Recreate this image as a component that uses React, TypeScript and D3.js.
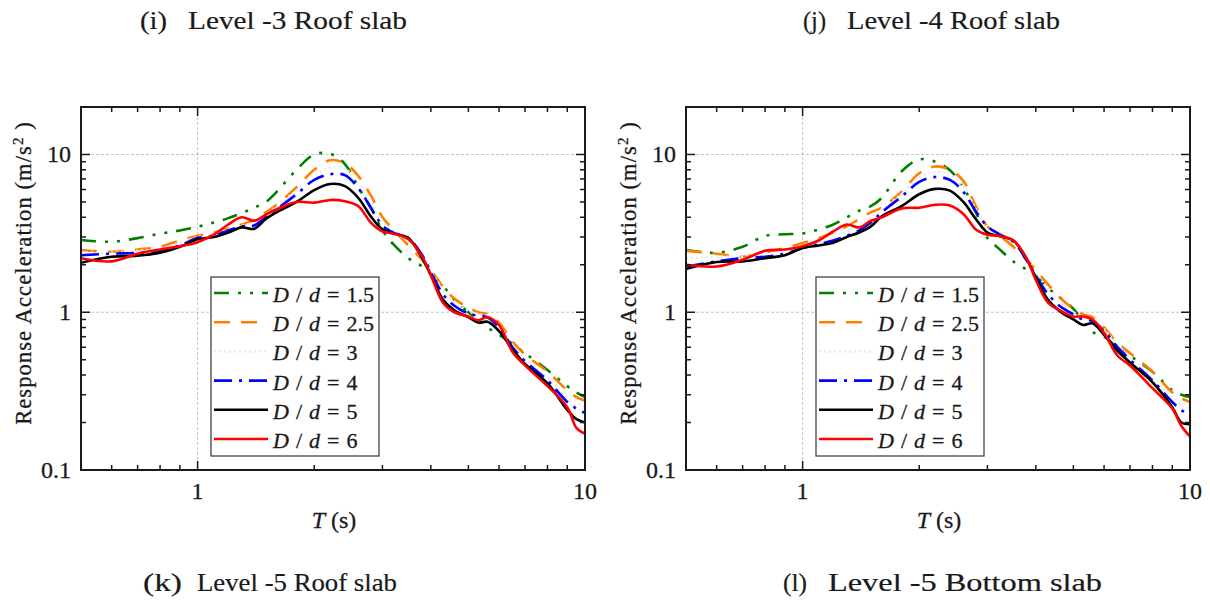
import React from "react";
import * as d3 from "d3";

// Period T (s) sample grid shared by all series
const T = [0.5, 0.6, 0.7, 0.8, 0.9, 1.0, 1.1, 1.2, 1.3, 1.4, 1.5, 1.6, 1.8, 2.0, 2.2, 2.4, 2.6, 2.8, 3.0, 3.2, 3.5, 3.8, 4.0, 4.3, 4.6, 5.0, 5.3, 5.6, 6.0, 6.5, 7.0, 8.0, 9.0, 9.5, 10];

const LABELS = ["1.5", "2.5", "3", "4", "5", "6"];

// Panel (k) Level -5 Roof slab
const k15 = [2.87, 2.8, 2.95, 3.15, 3.3, 3.48, 3.7, 3.95, 4.25, 4.6, 5.0, 5.8, 8.0, 10.0, 10.1, 8.7, 6.2, 4.6, 3.3, 2.7, 2.2, 1.95, 1.75, 1.47, 1.2, 1.0, 0.9, 0.8, 0.72, 0.63, 0.55, 0.43, 0.34, 0.31, 0.29];
const k25 = [2.48, 2.42, 2.5, 2.6, 2.85, 3.05, 3.2, 3.4, 3.6, 3.85, 4.3, 4.8, 6.2, 8.0, 9.2, 8.8, 7.3, 5.5, 4.0, 3.35, 2.65, 2.15, 1.85, 1.45, 1.22, 1.07, 1.0, 0.97, 0.86, 0.65, 0.54, 0.42, 0.32, 0.29, 0.275];
const k3 = [2.4, 2.38, 2.45, 2.52, 2.75, 3.0, 3.12, 3.35, 3.55, 3.7, 4.15, 4.7, 5.9, 7.4, 8.3, 8.1, 6.7, 5.0, 3.75, 3.25, 2.8, 2.2, 1.82, 1.38, 1.16, 1.02, 0.97, 0.95, 0.83, 0.62, 0.51, 0.39, 0.29, 0.27, 0.25];
const k4 = [2.3, 2.35, 2.38, 2.45, 2.65, 2.95, 3.05, 3.3, 3.5, 3.55, 4.0, 4.5, 5.6, 6.9, 7.5, 7.4, 6.1, 4.6, 3.55, 3.2, 2.95, 2.3, 1.8, 1.3, 1.1, 0.98, 0.95, 0.93, 0.8, 0.6, 0.49, 0.37, 0.27, 0.245, 0.23];
const k5 = [2.06, 2.25, 2.28, 2.38, 2.6, 2.9, 3.0, 3.2, 3.45, 3.38, 3.9, 4.3, 5.0, 5.95, 6.5, 6.3, 5.3, 4.05, 3.35, 3.15, 2.95, 2.2, 1.72, 1.2, 1.03, 0.93, 0.86, 0.87, 0.76, 0.58, 0.47, 0.355, 0.24, 0.21, 0.2];
const k6 = [2.2, 2.1, 2.35, 2.5, 2.62, 2.78, 3.1, 3.6, 4.0, 3.8, 4.15, 4.5, 5.0, 4.95, 5.15, 5.05, 4.7, 3.7, 3.25, 3.15, 2.9, 2.25, 1.72, 1.15, 1.0, 0.94, 0.89, 0.93, 0.83, 0.56, 0.46, 0.34, 0.25, 0.185, 0.17];

// Panel (l) Level -5 Bottom slab
const l15 = [2.48, 2.38, 2.6, 3.05, 3.12, 3.16, 3.35, 3.6, 4.0, 4.4, 4.7, 5.3, 7.8, 9.3, 9.0, 7.95, 6.2, 4.3, 2.95, 2.55, 2.1, 1.85, 1.7, 1.42, 1.25, 1.05, 0.88, 0.75, 0.7, 0.6, 0.53, 0.42, 0.32, 0.3, 0.29];
const l25 = [2.45, 2.35, 2.25, 2.4, 2.55, 2.75, 2.95, 3.2, 3.5, 3.9, 4.3, 4.6, 5.8, 7.6, 8.4, 8.0, 6.8, 4.7, 3.5, 3.1, 2.6, 2.15, 1.85, 1.5, 1.25, 1.05, 0.97, 0.93, 0.8, 0.64, 0.55, 0.42, 0.31, 0.285, 0.27];
const l3 = [2.2, 2.25, 2.25, 2.35, 2.45, 2.65, 2.8, 3.0, 3.25, 3.6, 4.0, 4.5, 5.6, 7.1, 7.8, 7.4, 6.3, 4.5, 3.5, 3.15, 2.75, 2.2, 1.8, 1.4, 1.18, 1.0, 0.94, 0.9, 0.78, 0.62, 0.52, 0.39, 0.29, 0.26, 0.245];
const l4 = [1.95, 2.1, 2.2, 2.25, 2.35, 2.55, 2.7, 2.85, 3.05, 3.3, 3.7, 4.3, 5.4, 6.7, 7.2, 6.9, 5.8, 4.35, 3.5, 3.15, 2.8, 2.1, 1.7, 1.3, 1.1, 0.97, 0.9, 0.88, 0.76, 0.6, 0.5, 0.37, 0.27, 0.24, 0.22];
const l5 = [1.88, 2.08, 2.1, 2.2, 2.3, 2.55, 2.65, 2.76, 3.0, 3.2, 3.5, 4.05, 4.7, 5.6, 6.05, 5.9, 5.0, 3.9, 3.2, 3.05, 2.85, 2.15, 1.65, 1.2, 1.02, 0.9, 0.83, 0.85, 0.72, 0.57, 0.48, 0.36, 0.25, 0.2, 0.195];
const l6 = [2.0, 1.95, 2.15, 2.45, 2.5, 2.62, 2.85, 3.25, 3.6, 3.45, 3.8, 4.0, 4.55, 4.6, 4.8, 4.75, 4.2, 3.35, 3.1, 3.05, 2.85, 2.15, 1.6, 1.15, 1.03, 0.94, 0.94, 0.9, 0.74, 0.53, 0.46, 0.33, 0.245, 0.19, 0.163];

const X_MINOR = [0.6, 0.7, 0.8, 0.9, 2, 3, 4, 5, 6, 7, 8, 9];
const X_MAJOR = [1];
const Y_MINOR = [0.2, 0.3, 0.4, 0.5, 0.6, 0.7, 0.8, 0.9, 2, 3, 4, 5, 6, 7, 8, 9];
const Y_MAJOR = [1, 10];
const X_TICK_LABELS = [{ v: 1, t: "1" }, { v: 10, t: "10" }];
const Y_TICK_LABELS = [{ v: 0.1, t: "0.1" }, { v: 1, t: "1" }, { v: 10, t: "10" }];

const COLORS = ["#008000", "#FF8000", "#ECECF6", "#0000FF", "#000000", "#FF0000"];
const DASHES = ["15 9 3 9 3 9", "16 11", "2 3", "18 7 3 7", "none", "none"];

const FONT = "'Liberation Serif', 'Times New Roman', Times, serif";
const INK = "#1a1a1a";

const TOP = 107;
const BOTTOM = 470;
const W = 504;

function Panel({ x0, data, id }: { x0: number; data: number[][]; id: string }) {
  const x = d3.scaleLog().domain([0.5, 10]).range([x0, x0 + W]);
  const y = d3.scaleLog().domain([0.1, 20]).range([BOTTOM, TOP]);
  const line = d3
    .line<number>()
    .x((_, i) => x(T[i]))
    .y((d) => y(d))
    .curve(d3.curveCatmullRom.alpha(0.5));

  const lx = x0 + 130;
  const lw = 168;
  const ltop = 277;
  const lbot = 456;

  const majorLen = 9;
  const minorLen = 5;
  const x1 = x0 + W;
  const textStroke = { stroke: INK, strokeWidth: 0.3 };

  return (
    <g>
      <defs>
        <clipPath id={id}>
          <rect x={x0} y={TOP} width={W} height={BOTTOM - TOP} />
        </clipPath>
      </defs>
      {/* grid */}
      {[1, 10].map((v) => (
        <line key={"gy" + v} x1={x0} x2={x1} y1={y(v)} y2={y(v)} stroke="#c4c4c4" strokeWidth={1} strokeDasharray="3 2" />
      ))}
      <line x1={x(1)} x2={x(1)} y1={TOP} y2={BOTTOM} stroke="#c4c4c4" strokeWidth={1} strokeDasharray="3 2" />

      {/* series */}
      <g clipPath={`url(#${id})`}>
        {data.map((s, i) => (
          <path
            key={i}
            d={line(s) || ""}
            fill="none"
            stroke={COLORS[i]}
            strokeWidth={2.6}
            strokeDasharray={DASHES[i]}
            strokeLinejoin="round"
          />
        ))}
      </g>

      {/* legend */}
      <rect x={lx} y={ltop} width={lw} height={lbot - ltop} fill="#fff" stroke="#444" strokeWidth={1.3} />
      {LABELS.map((lab, i) => {
        const base = 302 + i * 29.2;
        return (
          <g key={lab}>
            <line
              x1={lx + 3}
              x2={lx + 57}
              y1={base - 9}
              y2={base - 9}
              stroke={COLORS[i]}
              strokeWidth={2.6}
              strokeDasharray={DASHES[i]}
            />
            <text x={lx + 62} y={base} fontFamily={FONT} fontSize={22} wordSpacing={1.5} fill={INK} {...textStroke}>
              <tspan fontStyle="italic">D</tspan>
              <tspan> / </tspan>
              <tspan fontStyle="italic">d</tspan>
              <tspan>{" = " + lab}</tspan>
            </text>
          </g>
        );
      })}

      {/* frame */}
      <rect x={x0} y={TOP} width={W} height={BOTTOM - TOP} fill="none" stroke={INK} strokeWidth={2} />
      {/* x ticks, bottom & top */}
      {X_MINOR.map((v) => (
        <g key={"xm" + v}>
          <line x1={x(v)} x2={x(v)} y1={BOTTOM} y2={BOTTOM - minorLen} stroke={INK} strokeWidth={1.5} />
          <line x1={x(v)} x2={x(v)} y1={TOP} y2={TOP + minorLen} stroke={INK} strokeWidth={1.5} />
        </g>
      ))}
      {X_MAJOR.map((v) => (
        <g key={"xM" + v}>
          <line x1={x(v)} x2={x(v)} y1={BOTTOM} y2={BOTTOM - majorLen} stroke={INK} strokeWidth={1.5} />
          <line x1={x(v)} x2={x(v)} y1={TOP} y2={TOP + majorLen} stroke={INK} strokeWidth={1.5} />
        </g>
      ))}
      {/* y ticks, left & right */}
      {Y_MINOR.map((v) => (
        <g key={"ym" + v}>
          <line x1={x0} x2={x0 + minorLen} y1={y(v)} y2={y(v)} stroke={INK} strokeWidth={1.5} />
          <line x1={x1} x2={x1 - minorLen} y1={y(v)} y2={y(v)} stroke={INK} strokeWidth={1.5} />
        </g>
      ))}
      {Y_MAJOR.map((v) => (
        <g key={"yM" + v}>
          <line x1={x0} x2={x0 + majorLen} y1={y(v)} y2={y(v)} stroke={INK} strokeWidth={1.5} />
          <line x1={x1} x2={x1 - majorLen} y1={y(v)} y2={y(v)} stroke={INK} strokeWidth={1.5} />
        </g>
      ))}

      {/* tick labels */}
      {X_TICK_LABELS.map((d) => (
        <text key={"xl" + d.t} x={x(d.v)} y={499} textAnchor="middle" fontFamily={FONT} fontSize={24} fill={INK} {...textStroke}>
          {d.t}
        </text>
      ))}
      {Y_TICK_LABELS.map((d) => (
        <text key={"yl" + d.t} x={x0 - 10} y={y(d.v) + 8} textAnchor="end" fontFamily={FONT} fontSize={24} fill={INK} {...textStroke}>
          {d.t}
        </text>
      ))}

      {/* axis titles */}
      <text x={x0 + W / 2 + 1} y={528} textAnchor="middle" fontFamily={FONT} fontSize={24} fill={INK} {...textStroke}>
        <tspan fontStyle="italic">T</tspan>
        <tspan> (s)</tspan>
      </text>
      <text
        transform={`translate(${x0 - 50},273) rotate(-90)`}
        textAnchor="middle"
        fontFamily={FONT}
        fontSize={22.5}
        letterSpacing={1.1}
        fill={INK}
        {...textStroke}
      >
        <tspan>Response Acceleration (m/s</tspan>
        <tspan dy={-8} fontSize={15}>2</tspan>
        <tspan dy={8}> )</tspan>
      </text>
    </g>
  );
}

function Title({ tag, tagX, tagEnd, textX, textEnd, y, text }: { tag: string; tagX: number; tagEnd: number; textX: number; textEnd: number; y: number; text: string }) {
  return (
    <g fontFamily={FONT} fontSize={25} fill={INK} stroke={INK} strokeWidth={0.2}>
      <text x={tagX} y={y} textLength={tagEnd - tagX} lengthAdjust="spacingAndGlyphs">{tag}</text>
      <text x={textX} y={y} textLength={textEnd - textX} lengthAdjust="spacingAndGlyphs">
        {text}
      </text>
    </g>
  );
}

export default function App() {
  return (
    <svg
      width={1210}
      height={601}
      viewBox="0 0 1210 601"
      style={{ position: "absolute", left: 0, top: 0, display: "block", background: "#fff" }}
    >
      <rect width={1210} height={601} fill="#fff" />
      <Title tag="(i)" tagX={140} tagEnd={167} textX={188} textEnd={407} y={29} text="Level -3 Roof slab" />
      <Title tag="(j)" tagX={803} tagEnd={826} textX={847} textEnd={1060} y={29} text="Level -4 Roof slab" />
      <Panel x0={81} data={[k15, k25, k3, k4, k5, k6]} id="clipK" />
      <Panel x0={686} data={[l15, l25, l3, l4, l5, l6]} id="clipL" />
      <Title tag="(k)" tagX={143} tagEnd={182} textX={197} textEnd={397} y={591} text="Level -5 Roof slab" />
      <Title tag="(l)" tagX={783} tagEnd={807} textX={828} textEnd={1102} y={591} text="Level -5 Bottom slab" />
    </svg>
  );
}
